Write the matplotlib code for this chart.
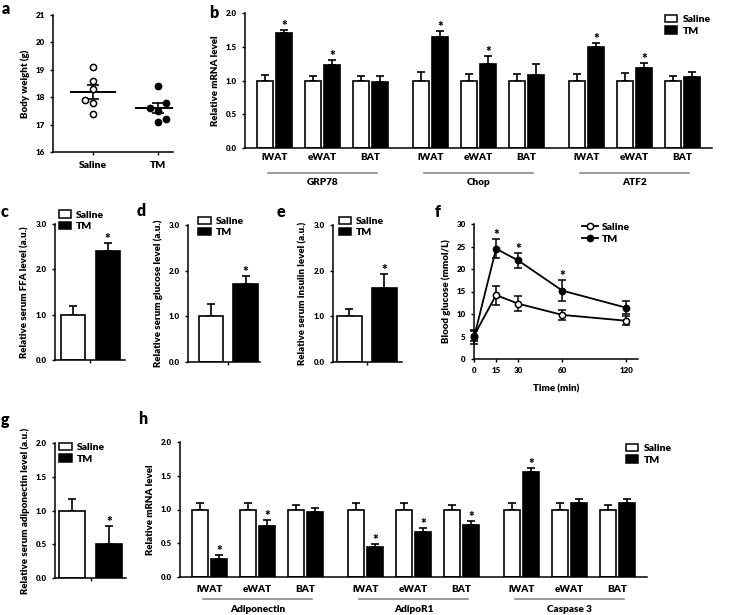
import matplotlib
matplotlib.use('Agg')
import matplotlib.pyplot as plt
import matplotlib.transforms as mtransforms
from matplotlib.patches import Patch
from matplotlib.lines import Line2D
import numpy as np

plt.rcParams['font.family'] = ['Lato', 'DejaVu Sans']
plt.rcParams['font.weight'] = 'heavy'
plt.rcParams['axes.labelweight'] = 'heavy'
plt.rcParams['axes.linewidth'] = 1.1
plt.rcParams['axes.labelsize'] = 7
plt.rcParams['xtick.labelsize'] = 5.8
plt.rcParams['ytick.labelsize'] = 5.8
plt.rcParams['xtick.major.width'] = 1.0
plt.rcParams['ytick.major.width'] = 1.0
plt.rcParams['xtick.major.size'] = 2.5
plt.rcParams['ytick.major.size'] = 2.5

# ---- data ----
# a: body weight (g), individual mice
bw_saline = [19.1, 18.6, 18.3, 17.9, 17.8, 17.4]
bw_tm = [18.4, 17.8, 17.6, 17.5, 17.2, 17.1]

# b: ER stress markers, relative mRNA level
tissues = ['iWAT', 'eWAT', 'BAT']
b_genes = ['GRP78', 'Chop', 'ATF2']
b_saline = [1.00, 1.00, 1.00, 1.00, 1.00, 1.00, 1.00, 1.00, 1.00]
b_saline_err = [0.08, 0.07, 0.07, 0.13, 0.09, 0.09, 0.10, 0.11, 0.07]
b_tm = [1.70, 1.23, 0.98, 1.64, 1.25, 1.08, 1.49, 1.19, 1.05]
b_tm_err = [0.05, 0.07, 0.08, 0.09, 0.12, 0.16, 0.06, 0.07, 0.07]
b_sig = [1, 1, 0, 1, 1, 0, 1, 1, 0]

# c-e, g: serum levels (saline, TM)
ffa = [1.00, 2.40]
ffa_err = [0.20, 0.18]
glucose = [1.00, 1.70]
glucose_err = [0.27, 0.18]
insulin = [1.00, 1.63]
insulin_err = [0.17, 0.29]
adiponectin = [1.00, 0.51]
adiponectin_err = [0.17, 0.26]

# f: glucose tolerance test
times = [0, 15, 30, 60, 120]
f_saline = [5.2, 14.2, 12.3, 9.8, 8.5]
f_saline_err = [1.3, 2.1, 1.7, 1.1, 1.0]
f_tm = [4.8, 24.5, 21.9, 15.2, 11.4]
f_tm_err = [1.4, 2.1, 1.6, 2.4, 1.4]
f_sig = [0, 1, 1, 1, 0]

# h: adiponectin signalling / apoptosis, relative mRNA level
h_genes = ['Adiponectin', 'AdipoR1', 'Caspase 3']
h_saline = [1.00, 1.00, 1.00, 1.00, 1.00, 1.00, 1.00, 1.00, 1.00]
h_saline_err = [0.10, 0.10, 0.07, 0.10, 0.09, 0.07, 0.10, 0.10, 0.07]
h_tm = [0.26, 0.75, 0.96, 0.44, 0.66, 0.77, 1.56, 1.09, 1.10]
h_tm_err = [0.07, 0.09, 0.06, 0.05, 0.07, 0.06, 0.05, 0.07, 0.06]
h_sig = [1, 1, 0, 1, 1, 1, 1, 0, 0]

W, H = 745, 615
fig = plt.figure(figsize=(W / 100, H / 100), dpi=100)


def axes_px(x0, y0, x1, y1):
    # axes box given in pixel coordinates of the figure (top-left origin)
    return fig.add_axes([x0 / W, 1 - y1 / H, (x1 - x0) / W, (y1 - y0) / H])


def clean(ax):
    ax.spines['top'].set_visible(False)
    ax.spines['right'].set_visible(False)
    ax.tick_params(direction='out')


def legend_boxes(ax, anchor, fs=7.5):
    handles = [Patch(facecolor='white', edgecolor='black', lw=1.1, label='Saline'),
               Patch(facecolor='black', edgecolor='black', lw=1.1, label='TM')]
    ax.legend(handles=handles, loc='upper left', bbox_to_anchor=anchor, frameon=False,
              fontsize=fs, handlelength=1.2, handleheight=0.7, handletextpad=0.5,
              labelspacing=0.2, borderpad=0, borderaxespad=0)


def star(ax, x, y, **kw):
    ax.text(x, y, '*', ha='center', va='bottom', fontsize=9.5, fontweight='heavy', **kw)


# ---- a ----
ax = axes_px(53, 15, 173, 152)
clean(ax)
sal_dx = [0, 0, 0, -0.12, 0, 0]
tm_dx = [0, 0.12, -0.12, 0, 0.12, 0]
ax.scatter(np.array(sal_dx), bw_saline, s=20, facecolor='white', edgecolor='black', lw=1.1, zorder=3)
ax.scatter(1 + np.array(tm_dx), bw_tm, s=20, facecolor='black', edgecolor='black', lw=1.1, zorder=3)
for i, pts in enumerate([bw_saline, bw_tm]):
    m = np.mean(pts)
    sem = np.std(pts, ddof=1) / np.sqrt(len(pts))
    ax.plot([i - 0.34, i + 0.34], [m, m], color='black', lw=1.4, zorder=2)
    ax.errorbar([i], [m], yerr=[sem], fmt='none', ecolor='black', elinewidth=1.2, capsize=4, capthick=1.2, zorder=2)
ax.set_xlim(-0.62, 1.23)
ax.set_ylim(16, 21)
ax.set_yticks([16, 17, 18, 19, 20, 21])
ax.set_xticks([0, 1])
ax.set_xticklabels(['Saline', 'TM'], fontsize=7.5)
ax.tick_params(axis='x', pad=4)
ax.set_ylabel('Body weight (g)')


# ---- grouped bar panels ----
def grouped_bars(ax, sal, sal_err, tm, tm_err, sig, genes, line_y, name_y, pad):
    clean(ax)
    centers = np.array([g * 9.75 + t * 3 for g in range(3) for t in range(3)])
    xs, xt = centers - 0.6, centers + 0.6
    ax.bar(xs, sal, width=1.0, color='white', edgecolor='black', lw=1.2, zorder=2)
    ax.bar(xt, tm, width=1.0, color='black', edgecolor='black', lw=1.2, zorder=2)
    ax.errorbar(xs, sal, yerr=[np.zeros(9), sal_err], fmt='none', ecolor='black',
                elinewidth=1.2, capsize=2.6, capthick=1.2, zorder=1)
    ax.errorbar(xt, tm, yerr=[np.zeros(9), tm_err], fmt='none', ecolor='black',
                elinewidth=1.2, capsize=2.6, capthick=1.2, zorder=1)
    for i in range(9):
        if sig[i]:
            star(ax, xt[i], tm[i] + tm_err[i] - 0.03)
    ax.set_xlim(-1.85, 27.35)
    ax.set_ylim(0, 2.0)
    ax.set_yticks([0, 0.5, 1.0, 1.5, 2.0])
    ax.set_yticklabels(['0.0', '0.5', '1.0', '1.5', '2.0'])
    ax.set_xticks(centers)
    ax.set_xticklabels(tissues * 3, fontsize=7.2)
    ax.tick_params(axis='x', length=0, pad=pad)
    trans = mtransforms.blended_transform_factory(ax.transData, ax.transAxes)
    for g, name in enumerate(genes):
        c0, c2 = centers[3 * g], centers[3 * g + 2]
        ax.plot([c0 - 0.4, c2 + 0.4], [line_y, line_y], transform=trans, color='#8a8a8a',
                lw=1.2, clip_on=False)
        ax.text((c0 + c2) / 2, name_y, name, transform=trans, ha='center', va='center', fontsize=7.2)
    ax.set_ylabel('Relative mRNA level')


ax = axes_px(245, 13, 712, 148)
grouped_bars(ax, b_saline, b_saline_err, b_tm, b_tm_err, b_sig, b_genes, -0.185, -0.255, 3.5)
legend_boxes(ax, (0.899, 0.985))

ax = axes_px(180, 442, 647, 577)
grouped_bars(ax, h_saline, h_saline_err, h_tm, h_tm_err, h_sig, h_genes, -0.163, -0.24, 6)
legend_boxes(ax, (0.955, 0.985))


# ---- two-bar serum panels ----
def two_bars(ax, vals, errs, xlim, ylim, yticks, ylabel, anchor):
    clean(ax)
    x = np.arange(2)
    ax.bar(x, vals, width=0.7, color=['white', 'black'], edgecolor='black', lw=1.2, zorder=2)
    ax.errorbar(x, vals, yerr=[[0, 0], errs], fmt='none', ecolor='black',
                elinewidth=1.2, capsize=3.2, capthick=1.2, zorder=1)
    star(ax, 1, vals[1] + errs[1] - (ylim[1] - ylim[0]) * 0.015)
    ax.set_xlim(*xlim)
    ax.set_ylim(*ylim)
    ax.set_yticks(yticks)
    ax.set_yticklabels(['%.1f' % t for t in yticks])
    ax.set_xticks([0.5])
    ax.set_xticklabels([''])
    ax.set_ylabel(ylabel)
    legend_boxes(ax, anchor)


ax = axes_px(55, 224, 125, 360)
two_bars(ax, ffa, ffa_err, (-0.52, 1.5), (0, 3.0), [0, 1.0, 2.0, 3.0],
         'Relative serum FFA level (a.u.)', (0.05, 1.1))
ax = axes_px(188, 225, 260, 362)
two_bars(ax, glucose, glucose_err, (-0.67, 1.42), (0, 3.0), [0, 1.0, 2.0, 3.0],
         'Relative serum glucose level (a.u.)', (0.14, 1.06))
ax = axes_px(333, 225, 402, 362)
two_bars(ax, insulin, insulin_err, (-0.47, 1.5), (0, 3.0), [0, 1.0, 2.0, 3.0],
         'Relative serum insulin level (a.u.)', (0.08, 1.06))
ax = axes_px(55, 443, 126, 578)
two_bars(ax, adiponectin, adiponectin_err, (-0.46, 1.46), (0, 2.0), [0, 0.5, 1.0, 1.5, 2.0],
         'Relative serum adiponectin level (a.u.)', (0.06, 1.0))

# ---- f ----
ax = axes_px(474, 224, 638, 359)
clean(ax)
k = 0.725


def fwd(t):
    t = np.asarray(t, dtype=float)
    return np.where(t <= 60, t, 60 + (t - 60) * k)


def inv(u):
    u = np.asarray(u, dtype=float)
    return np.where(u <= 60, u, 60 + (u - 60) / k)


ax.set_xscale('function', functions=(fwd, inv))
ax.errorbar(times, f_saline, yerr=f_saline_err, color='black', lw=1.3, marker='o', ms=4.5,
            mfc='white', mec='black', mew=1.1, elinewidth=1.1, capsize=3, capthick=1.1,
            clip_on=False, zorder=3)
ax.errorbar(times, f_tm, yerr=f_tm_err, color='black', lw=1.3, marker='o', ms=4.5,
            mfc='black', mec='black', mew=1.1, elinewidth=1.1, capsize=3, capthick=1.1,
            clip_on=False, zorder=3)
for t, v, e, s in zip(times, f_tm, f_tm_err, f_sig):
    if s:
        star(ax, t, v + e - 0.4)
ax.set_xlim(0, 131)
ax.set_ylim(0, 30)
ax.set_xticks(times)
ax.set_xticklabels([str(t) for t in times])
ax.set_yticks([0, 5, 10, 15, 20, 25, 30])
ax.xaxis.set_minor_locator(matplotlib.ticker.NullLocator())
ax.set_xlabel('Time (min)', labelpad=7)
ax.set_ylabel('Blood glucose (mmol/L)')
handles = [Line2D([], [], color='black', lw=1.3, marker='o', ms=4.5, mfc='white', mec='black', mew=1.1),
           Line2D([], [], color='black', lw=1.3, marker='o', ms=4.5, mfc='black', mec='black')]
ax.legend(handles, ['Saline', 'TM'], loc='upper left', bbox_to_anchor=(0.66, 1.01), frameon=False,
          fontsize=7.5, handlelength=1.5, handletextpad=0.4, labelspacing=0.25, borderpad=0,
          borderaxespad=0)

# ---- panel letters ----
letters = [('a', 2, 1), ('b', 209, 5), ('c', 1, 204), ('d', 137, 203), ('e', 277, 204),
           ('f', 435, 204), ('g', 1, 412), ('h', 138, 411)]
for s, px, py in letters:
    fig.text(px / W, 1 - py / H, s, ha='left', va='top', fontsize=11.5, fontweight='heavy')

fig.savefig('out.png', dpi=100)
